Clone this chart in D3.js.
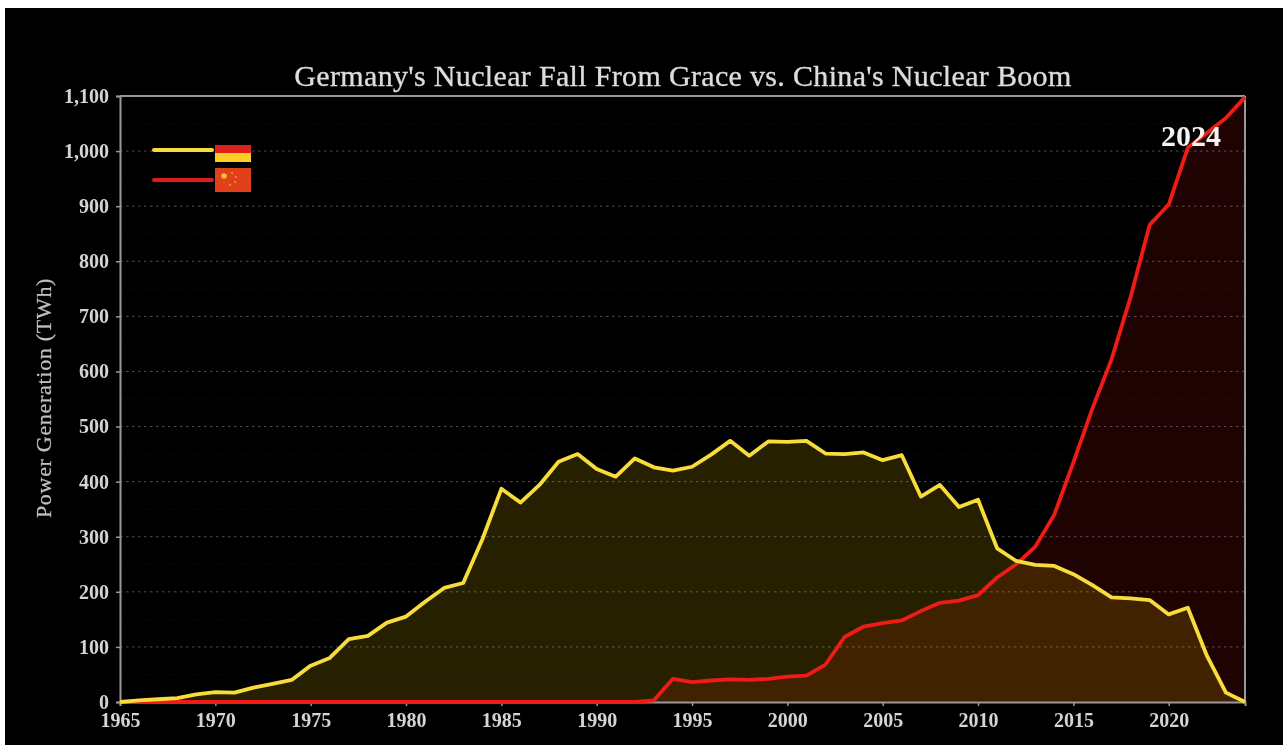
<!DOCTYPE html>
<html>
<head>
<meta charset="utf-8">
<script src="https://cdn.jsdelivr.net/npm/d3@7"></script>
<style>
  html, body { margin: 0; padding: 0; background: #fff; overflow: hidden; }
  svg { display: block; filter: blur(0.6px); }
  text { font-family: "Liberation Serif", serif; }
</style>
</head>
<body>
<svg></svg>
<script>
const firstYear = 1965;
const germany = [0, 3, 5, 7, 14, 18, 17, 26, 33, 40, 66, 80, 114, 120, 144, 155, 182, 207, 216, 295,
    387, 362, 394, 436, 450, 423, 409, 442, 426, 420, 427, 449, 474, 447, 473, 472, 474, 451, 450, 453,
    439, 448, 373, 394, 354, 367, 279, 256, 249, 247, 232, 212, 190, 188, 185, 159, 171, 84, 17, 0];
const china = [0, 0, 0, 0, 0, 0, 0, 0, 0, 0, 0, 0, 0, 0, 0, 0, 0, 0, 0, 0,
    0, 0, 0, 0, 0, 0, 0, 0, 3, 42, 36, 39, 41, 40, 42, 46, 48, 68, 118, 137,
    143, 148, 165, 180, 184, 194, 226, 250, 282, 340, 435, 533, 622, 735, 866, 903, 1006, 1033, 1060, 1098];
const xTicks = [1965, 1970, 1975, 1980, 1985, 1990, 1995, 2000, 2005, 2010, 2015, 2020];
const yTicks = [0, 100, 200, 300, 400, 500, 600, 700, 800, 900, 1000, 1100];
const yMinor = [50, 150, 250, 350, 450, 550, 650, 750, 850, 950, 1050];

const width = 1283, height = 745;
const margin = { top: 96, right: 38, bottom: 43, left: 120 };

const svg = d3.select("svg")
    .attr("width", width)
    .attr("height", height);

// white strip of the screenshot round the black picture
svg.append("rect").attr("width", width).attr("height", height).attr("fill", "#fff");
svg.append("rect").attr("x", 5).attr("y", 8).attr("width", width - 5).attr("height", height - 8).attr("fill", "#000");

const x = d3.scaleLinear()
    .domain([firstYear, 2024])
    .range([margin.left, width - margin.right]);

const y = d3.scaleLinear()
    .domain([0, 1100])
    .range([height - margin.bottom, margin.top]);

const area = d3.area()
    .x((d, i) => x(firstYear + i))
    .y0(y(0))
    .y1(d => y(d));

const line = d3.line()
    .x((d, i) => x(firstYear + i))
    .y(d => y(d));

svg.append("path").attr("d", area(china)).attr("fill", "#ff1a10").attr("fill-opacity", 0.12);
svg.append("path").attr("d", area(germany)).attr("fill", "#ffd800").attr("fill-opacity", 0.15);

// grid
svg.append("g").selectAll("line")
    .data(yMinor)
    .join("line")
    .attr("x1", margin.left).attr("x2", width - margin.right)
    .attr("y1", d => y(d)).attr("y2", d => y(d))
    .attr("stroke", "#fff").attr("stroke-opacity", 0.04).attr("stroke-dasharray", "3,3");

svg.append("g").selectAll("line")
    .data(yTicks.slice(1, -1))
    .join("line")
    .attr("x1", margin.left).attr("x2", width - margin.right)
    .attr("y1", d => y(d)).attr("y2", d => y(d))
    .attr("stroke", "#bbb").attr("stroke-opacity", 0.42).attr("stroke-dasharray", "2.5,3.5");

// axes
const xAxis = svg.append("g")
    .attr("transform", `translate(0,${y(0)})`)
    .call(d3.axisBottom(x).tickValues(xTicks).tickFormat(d3.format("d")).tickSize(4).tickPadding(7));

const yAxis = svg.append("g")
    .attr("transform", `translate(${margin.left},0)`)
    .call(d3.axisLeft(y).tickValues(yTicks).tickFormat(d3.format(",")).tickSize(4).tickPadding(7));

[xAxis, yAxis].forEach(g => {
    g.selectAll("path").attr("stroke", "#999").attr("stroke-width", 2);
    g.selectAll("line").attr("stroke", "#999").attr("stroke-width", 1.5);
    g.selectAll("text")
        .attr("fill", "#d4d4d4")
        .style("font-family", '"Liberation Serif", serif')
        .style("font-size", "20px")
        .style("font-weight", "bold");
});

// top and right frame
svg.append("line")
    .attr("x1", margin.left).attr("x2", width - margin.right)
    .attr("y1", margin.top).attr("y2", margin.top)
    .attr("stroke", "#999").attr("stroke-width", 2);
svg.append("line")
    .attr("x1", width - margin.right).attr("x2", width - margin.right)
    .attr("y1", margin.top).attr("y2", y(0))
    .attr("stroke", "#999").attr("stroke-width", 2);

svg.append("path").attr("d", line(china))
    .attr("fill", "none").attr("stroke", "#ee1c14").attr("stroke-width", 3.8).attr("stroke-linejoin", "round");
svg.append("path").attr("d", line(germany))
    .attr("fill", "none").attr("stroke", "#f7dc3c").attr("stroke-width", 3.8).attr("stroke-linejoin", "round");

// title and labels
svg.append("text")
    .attr("x", 683).attr("y", 86)
    .attr("text-anchor", "middle")
    .attr("fill", "#dcdcdc")
    .attr("stroke", "#dcdcdc")
    .attr("stroke-width", 0.35)
    .style("font-size", "30px")
    .style("letter-spacing", "0.33px")
    .text("Germany's Nuclear Fall From Grace vs. China's Nuclear Boom");

svg.append("text")
    .attr("transform", "translate(51,398) rotate(-90)")
    .attr("text-anchor", "middle")
    .attr("fill", "#c0c0c0")
    .attr("stroke", "#c0c0c0")
    .attr("stroke-width", 0.25)
    .style("font-size", "22px")
    .style("letter-spacing", "0.7px")
    .text("Power Generation (TWh)");

svg.append("text")
    .attr("x", 1191).attr("y", 146)
    .attr("text-anchor", "middle")
    .attr("fill", "#f2f2f2")
    .style("font-size", "30px")
    .style("font-weight", "bold")
    .text("2024");

// legend: line samples with flags
const legend = svg.append("g");
legend.append("line").attr("x1", 154).attr("x2", 212).attr("y1", 150).attr("y2", 150)
    .attr("stroke", "#f7dc3c").attr("stroke-width", 4).attr("stroke-linecap", "round");
legend.append("line").attr("x1", 154).attr("x2", 212).attr("y1", 180).attr("y2", 180)
    .attr("stroke", "#d81f1a").attr("stroke-width", 4).attr("stroke-linecap", "round");

legend.append("rect").attr("x", 215).attr("y", 145).attr("width", 36).attr("height", 8).attr("fill", "#e0201a");
legend.append("rect").attr("x", 215).attr("y", 153).attr("width", 36).attr("height", 9).attr("fill", "#fcd022");
legend.append("rect").attr("x", 215).attr("y", 168).attr("width", 36).attr("height", 24).attr("fill", "#e0401a");
legend.append("circle").attr("cx", 224).attr("cy", 176).attr("r", 2.8).attr("fill", "#f8c030");
[[232, 173], [236, 177], [235, 182], [230, 185]].forEach(p => {
    legend.append("circle").attr("cx", p[0]).attr("cy", p[1]).attr("r", 1).attr("fill", "#f0a030");
});
</script>
</body>
</html>
